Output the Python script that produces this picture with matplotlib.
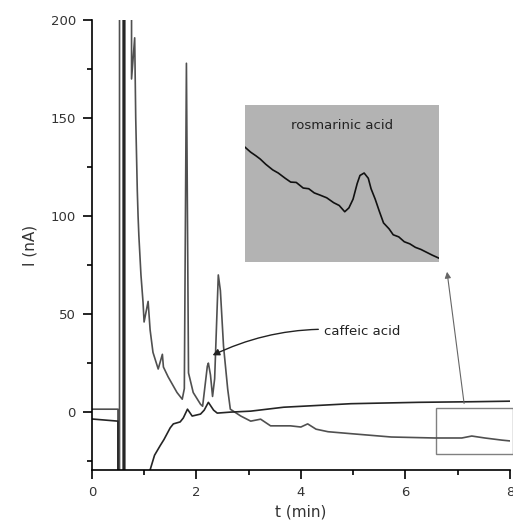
import matplotlib
matplotlib.use("Agg")
import matplotlib.pyplot as plt
from matplotlib.patches import Rectangle
from matplotlib.ticker import MultipleLocator

# --- data (t in min, I in nA) ---
# sample trace (big peaks, ends low)
sample_t = [0, 0.5, 0.5, 0.53, 0.53, 0.76, 0.76, 0.82, 0.84, 0.87, 0.885, 0.9, 0.94,
            0.98, 1.0, 1.077, 1.115, 1.17, 1.27, 1.35, 1.37, 1.46, 1.63, 1.73, 1.77,
            1.81, 1.85, 1.94, 2.08, 2.12, 2.21, 2.23, 2.27, 2.31, 2.35, 2.42, 2.46,
            2.52, 2.6, 2.65, 2.85, 3.04, 3.23, 3.42, 3.8, 4.0, 4.13, 4.29, 4.52,
            4.96, 5.73, 6.56, 7.08, 7.27, 7.52, 7.85, 8.04]
sample_I = [1.5, 1.5, -40, -40, 260, 260, 170, 191, 150, 113, 100, 90, 70,
            56, 46, 56.5, 42, 30.5, 22, 29.5, 23, 18, 10, 6.6, 12,
            178, 20, 10, 4, 3, 23.4, 25, 19, 8, 17, 70, 62,
            33.6, 11.7, 1.5, -2, -4.6, -3.6, -7, -7, -7.6, -6, -8.7, -10,
            -11, -12.7, -13.2, -13.2, -12.2, -13.2, -14.3, -14.8]

# second trace (spike at injection, then rising baseline)
blank_t = [0, 0.5, 0.5, 0.6, 0.6, 0.63, 0.63, 1.1, 1.115, 1.2, 1.31, 1.38, 1.5,
           1.56, 1.69, 1.75, 1.83, 1.92, 2.08, 2.15, 2.23, 2.33, 2.4, 2.65,
           3.04, 3.67, 4.96, 6.25, 7.27, 8.04]
blank_I = [-3.5, -4.6, -40, -40, 260, 260, -40, -40, -29.5, -22, -17, -14, -8,
           -6, -5, -3, 1.5, -2, -1, 1, 5, 1, -0.5, 0,
           0.5, 2.5, 4.3, 5.0, 5.3, 5.6]

# enlarged region around rosmarinic acid (inset)
inset_t = [6.60, 6.64, 6.68, 6.71, 6.75, 6.80, 6.84, 6.89, 6.93, 6.97, 7.02, 7.06,
           7.10, 7.14, 7.19, 7.24, 7.28, 7.32, 7.35, 7.38, 7.41, 7.43, 7.46,
           7.49, 7.51, 7.54, 7.57, 7.60, 7.64, 7.67, 7.71, 7.75, 7.79, 7.83,
           7.87, 7.91, 7.95, 8.00]
inset_I = [-12.21, -12.35, -12.46, -12.55, -12.70, -12.86, -12.95, -13.10, -13.21,
           -13.22, -13.38, -13.40, -13.52, -13.58, -13.66, -13.80, -13.88, -14.06,
           -13.95, -13.70, -13.25, -13.02, -12.95, -13.10, -13.40, -13.70, -14.05,
           -14.38, -14.55, -14.72, -14.78, -14.92, -14.98, -15.08, -15.14, -15.22,
           -15.30, -15.39]
inset_tlim = (6.6, 8.0)
inset_Ilim = (-15.5, -11.0)

zoom_box_t = (6.58, 8.06)
zoom_box_I = (-21.4, 2.0)

caffeic_peak = (2.31, 29)
caffeic_label = (4.44, 41)
inset_corner = (6.79, 73)
box_top = (7.13, 3.0)

fig = plt.figure(figsize=(5.13, 5.31), dpi=100)
ax = fig.add_axes([0.179, 0.115, 0.815, 0.847])

ax.plot(sample_t, sample_I, color="#505050", lw=1.2)
ax.plot(blank_t, blank_I, color="#252525", lw=1.2)

ax.set_xlim(0, 8)
ax.set_ylim(-29.5, 200)
ax.xaxis.set_major_locator(MultipleLocator(2))
ax.xaxis.set_minor_locator(MultipleLocator(1))
ax.yaxis.set_major_locator(MultipleLocator(50))
ax.yaxis.set_minor_locator(MultipleLocator(25))
for s in ["top", "right"]:
    ax.spines[s].set_visible(False)
for s in ["left", "bottom"]:
    ax.spines[s].set_linewidth(1.2)
ax.tick_params(which="both", direction="out", width=1.2, labelsize=9.5,
               labelcolor="#333333", pad=5)
ax.tick_params(which="major", length=6.5)
ax.tick_params(which="minor", length=3.6)
ax.set_xlabel("t (min)", fontsize=11, color="#333333", labelpad=4)
ax.set_ylabel("I (nA)", fontsize=11, color="#333333", labelpad=9)

# zoom box and arrow to inset
ax.add_patch(Rectangle((zoom_box_t[0], zoom_box_I[0]),
                       zoom_box_t[1] - zoom_box_t[0], zoom_box_I[1] - zoom_box_I[0],
                       fill=False, edgecolor="#808080", lw=1.0, clip_on=False))
ax.annotate("", xy=inset_corner, xytext=box_top,
            arrowprops=dict(arrowstyle="-|>", color="#666666", lw=0.8,
                            mutation_scale=9))

# caffeic acid label
ax.annotate("caffeic acid", xy=caffeic_peak, xytext=caffeic_label,
            fontsize=9.5, color="#222222", va="center", ha="left",
            arrowprops=dict(arrowstyle="-|>", color="#222222", lw=1.0,
                            mutation_scale=10, shrinkA=2, shrinkB=0,
                            connectionstyle="arc3,rad=0.15"))

# inset
axi = fig.add_axes([0.4776, 0.5066, 0.378, 0.2957])
axi.set_facecolor("#b3b3b3")
axi.plot(inset_t, inset_I, color="#111111", lw=1.2)
axi.set_xlim(*inset_tlim)
axi.set_ylim(*inset_Ilim)
axi.set_xticks([])
axi.set_yticks([])
for s in axi.spines.values():
    s.set_visible(False)
axi.text(0.5, 0.87, "rosmarinic acid", transform=axi.transAxes, ha="center",
         va="center", fontsize=9.5, color="#222222")

fig.savefig("out.png", dpi=100)
